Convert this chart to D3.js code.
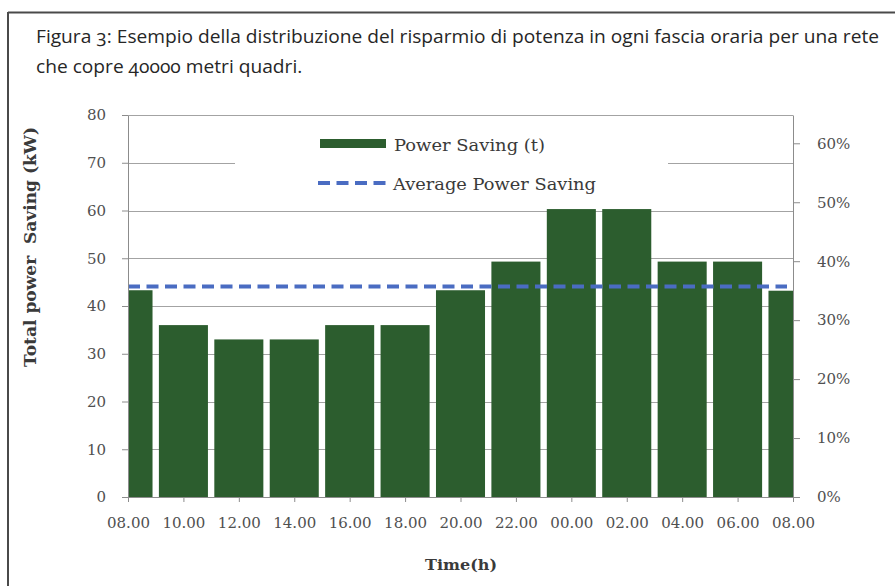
<!DOCTYPE html>
<html>
<head>
<meta charset="utf-8">
<script src="https://cdn.jsdelivr.net/npm/d3@7"></script>
<style>
  body { margin: 0; background: #fff; }
  svg { display: block; }
</style>
</head>
<body>
<svg id="chart" width="895" height="586"></svg>
<script>
// Two-hour time slots (the day wraps back to 08.00)
const timeLabels = ["08.00", "10.00", "12.00", "14.00", "16.00", "18.00", "20.00",
                    "22.00", "00.00", "02.00", "04.00", "06.00", "08.00"];
// Power saving per slot, kW
const powerSaving = [43.3, 36, 33, 33, 36, 36, 43.3, 49.3, 60.3, 60.3, 49.3, 49.3, 43.2];
// Average power saving over the day, kW
const averageSaving = 44.1;
const leftTicks = [0, 10, 20, 30, 40, 50, 60, 70, 80];
const rightTicks = [0, 0.1, 0.2, 0.3, 0.4, 0.5, 0.6];
const titleLines = [
  "Figura 3: Esempio della distribuzione del risparmio di potenza in ogni fascia oraria per una rete",
  "che copre 40000 metri quadri."
];
const legendLabels = ["Power Saving (t)", "Average Power Saving"];

const svg = d3.select("#chart");
const W = 895, H = 586;
const plot = { left: 128, right: 793, top: 115, bottom: 497 };
const serif = "'DejaVu Serif', serif";
const barColor = "#2c5d2e";
const avgColor = "#4a6cc2";
const gridColor = "#a3a3a3";
const axisColor = "#8c8c8c";
const labelColor = "#505050";

svg.append("rect").attr("width", W).attr("height", H).attr("fill", "#fff");

// Frame around the figure
svg.append("line").attr("x1", 8).attr("x2", W).attr("y1", 12.5).attr("y2", 12.5)
  .attr("stroke", "#4a4a4a").attr("stroke-width", 2);
svg.append("line").attr("x1", 8).attr("x2", 8).attr("y1", 12).attr("y2", H)
  .attr("stroke", "#4a4a4a").attr("stroke-width", 2);

// Caption (condensed to fit the frame width)
const title = svg.append("g")
  .attr("font-family", "'Open Sans', sans-serif")
  .attr("font-size", 19)
  .attr("fill", "#262626")
  .style("font-feature-settings", "'onum' 1");
const t1 = title.append("text").attr("x", 36).attr("y", 43).text(titleLines[0]);
const t2 = title.append("text").attr("x", 36).attr("y", 73).text(titleLines[1]);
const ratio = 843 / t1.node().getComputedTextLength();
t1.attr("textLength", 843).attr("lengthAdjust", "spacingAndGlyphs");
t2.attr("textLength", t2.node().getComputedTextLength() * ratio).attr("lengthAdjust", "spacingAndGlyphs");

// Scales
const x = d3.scalePoint().domain(d3.range(timeLabels.length)).range([plot.left, plot.right]);
const y = d3.scaleLinear().domain([0, 80]).range([plot.bottom, plot.top]);
const yR = d3.scaleLinear().domain([0, 0.648]).range([plot.bottom, plot.top]);
const barW = x.step() * 0.885;

// Gridlines
svg.append("g").selectAll("line")
  .data(leftTicks.filter(d => d > 0))
  .join("line")
  .attr("x1", plot.left).attr("x2", plot.right)
  .attr("y1", d => Math.round(y(d)) + 0.5).attr("y2", d => Math.round(y(d)) + 0.5)
  .attr("stroke", gridColor).attr("stroke-width", 1);

// Legend background (hides the gridline behind it)
svg.append("rect").attr("x", 235).attr("y", 122).attr("width", 433).attr("height", 82)
  .attr("fill", "#fff");

// Bars, clipped to the plot area
svg.append("clipPath").attr("id", "plotClip")
  .append("rect").attr("x", plot.left).attr("y", 0)
  .attr("width", plot.right - plot.left).attr("height", plot.bottom);

svg.append("g").attr("clip-path", "url(#plotClip)")
  .selectAll("rect")
  .data(powerSaving)
  .join("rect")
  .attr("x", (d, i) => x(i) - barW / 2)
  .attr("width", barW)
  .attr("y", d => y(d))
  .attr("height", d => y(0) - y(d))
  .attr("fill", barColor);

// Average line
svg.append("line")
  .attr("x1", x(0)).attr("x2", x(timeLabels.length - 1) - 6)
  .attr("y1", y(averageSaving)).attr("y2", y(averageSaving))
  .attr("stroke", avgColor).attr("stroke-width", 4)
  .attr("stroke-dasharray", "12,6.5");

// Axes
function styleAxis(g) {
  g.select(".domain").attr("stroke", axisColor);
  g.selectAll(".tick line").attr("stroke", axisColor);
  g.selectAll(".tick text").attr("fill", labelColor);
  g.attr("font-family", serif).attr("font-size", 15);
}

svg.append("g")
  .attr("transform", `translate(${plot.left},0)`)
  .call(d3.axisLeft(y).tickValues(leftTicks).tickSize(6).tickSizeOuter(0).tickPadding(16))
  .call(styleAxis);

svg.append("g")
  .attr("transform", `translate(${plot.right},0)`)
  .call(d3.axisRight(yR).tickValues(rightTicks).tickFormat(d3.format(".0%"))
    .tickSize(7).tickSizeOuter(0).tickPadding(17))
  .call(styleAxis);

svg.append("g")
  .attr("transform", `translate(0,${plot.bottom})`)
  .call(d3.axisBottom(x).tickFormat(i => timeLabels[i]).tickSize(5).tickSizeOuter(0).tickPadding(15))
  .call(styleAxis);

// Top border of the plot
svg.append("line").attr("x1", plot.left).attr("x2", plot.right)
  .attr("y1", plot.top + 0.5).attr("y2", plot.top + 0.5)
  .attr("stroke", gridColor);

// Axis titles
svg.append("text")
  .attr("transform", "translate(36,247) rotate(-90)")
  .attr("text-anchor", "middle")
  .attr("font-family", serif).attr("font-weight", "bold").attr("font-size", 17)
  .attr("fill", "#3a3a3a")
  .style("white-space", "pre")
  .attr("textLength", 240).attr("lengthAdjust", "spacingAndGlyphs")
  .text("Total power  Saving (kW)");

svg.append("text")
  .attr("x", 461).attr("y", 570)
  .attr("text-anchor", "middle")
  .attr("font-family", serif).attr("font-weight", "bold").attr("font-size", 15.5)
  .attr("fill", "#3a3a3a")
  .attr("textLength", 72).attr("lengthAdjust", "spacingAndGlyphs")
  .text("Time(h)");

// Legend
const legend = svg.append("g").attr("font-family", serif).attr("font-size", 17).attr("fill", "#3a3a3a");
legend.append("rect").attr("x", 320).attr("y", 139).attr("width", 66).attr("height", 9).attr("fill", barColor);
legend.append("text").attr("x", 394).attr("y", 151)
  .attr("textLength", 151).attr("lengthAdjust", "spacingAndGlyphs")
  .text(legendLabels[0]);
legend.append("line").attr("x1", 318).attr("x2", 388).attr("y1", 183).attr("y2", 183)
  .attr("stroke", avgColor).attr("stroke-width", 4).attr("stroke-dasharray", "12,6.5");
legend.append("text").attr("x", 393).attr("y", 190)
  .attr("textLength", 203).attr("lengthAdjust", "spacingAndGlyphs")
  .text(legendLabels[1]);
</script>
</body>
</html>
